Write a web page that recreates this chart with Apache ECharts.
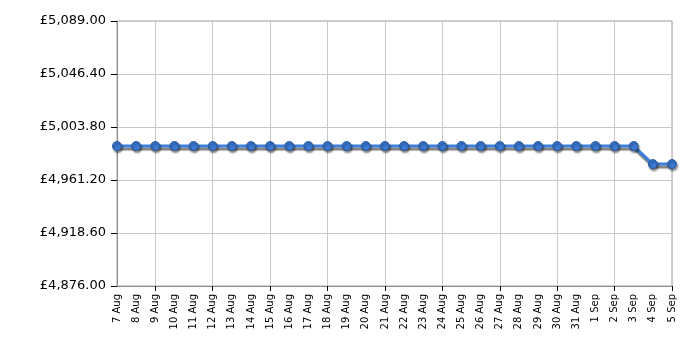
<!DOCTYPE html>
<html><head><meta charset="utf-8">
<script src="https://cdn.jsdelivr.net/npm/echarts@6/dist/echarts.min.js"></script>
<style>html,body{margin:0;padding:0;background:#fff}#c{width:700px;height:350px}</style>
</head><body><div id="c"></div>
<script>
var categories = ['7 Aug','8 Aug','9 Aug','10 Aug','11 Aug','12 Aug','13 Aug','14 Aug','15 Aug','16 Aug','17 Aug','18 Aug','19 Aug','20 Aug','21 Aug','22 Aug','23 Aug','24 Aug','25 Aug','26 Aug','27 Aug','28 Aug','29 Aug','30 Aug','31 Aug','1 Sep','2 Sep','3 Sep','4 Sep','5 Sep'];
var prices = [4988.5,4988.5,4988.5,4988.5,4988.5,4988.5,4988.5,4988.5,4988.5,4988.5,4988.5,4988.5,4988.5,4988.5,4988.5,4988.5,4988.5,4988.5,4988.5,4988.5,4988.5,4988.5,4988.5,4988.5,4988.5,4988.5,4988.5,4988.5,4974,4974];
var yMin = 4876, yMax = 5089, yStep = 42.6;

var chart = echarts.init(document.getElementById('c'), null, {renderer:'canvas'});
var every3 = function(i){ return (i - 2) % 3 === 0; };
chart.setOption({
  animation:false,
  grid:{left:117,right:28,top:21,bottom:64,show:true,borderColor:'#a0a0a0',borderWidth:1},
  xAxis:{
    type:'category', data:categories, boundaryGap:false,
    axisLine:{lineStyle:{color:'#909090',width:1}},
    axisTick:{show:true,interval:every3,length:5,lineStyle:{color:'#000'}},
    splitLine:{show:true,interval:every3,lineStyle:{color:'#c8c8c8',width:1}},
    axisLabel:{interval:0,rotate:90,fontFamily:'DejaVu Sans',fontSize:10,color:'#000',margin:8}
  },
  yAxis:{
    type:'value', min:yMin, max:yMax, interval:yStep,
    axisLine:{show:true,lineStyle:{color:'#909090',width:1}},
    axisTick:{show:true,length:6,lineStyle:{color:'#000'}},
    splitLine:{show:true,lineStyle:{color:'#c8c8c8',width:1}},
    axisLabel:{fontFamily:'DejaVu Sans',fontSize:13,color:'#000',margin:11,
      formatter:function(v){return '£'+v.toLocaleString('en-GB',{minimumFractionDigits:2,maximumFractionDigits:2});}}
  },
  series:[{
    type:'line', data:prices, symbol:'circle', symbolSize:9, showAllSymbol:true,
    lineStyle:{color:'#3d7fdc',width:3,shadowColor:'rgba(0,0,0,0.5)',shadowOffsetX:1,shadowOffsetY:3,shadowBlur:1},
    itemStyle:{color:'#3a78d2',borderColor:'#2b5c9e',borderWidth:1,shadowColor:'rgba(0,0,0,0.45)',shadowOffsetX:1,shadowOffsetY:2,shadowBlur:2}
  }]
});
</script></body></html>
